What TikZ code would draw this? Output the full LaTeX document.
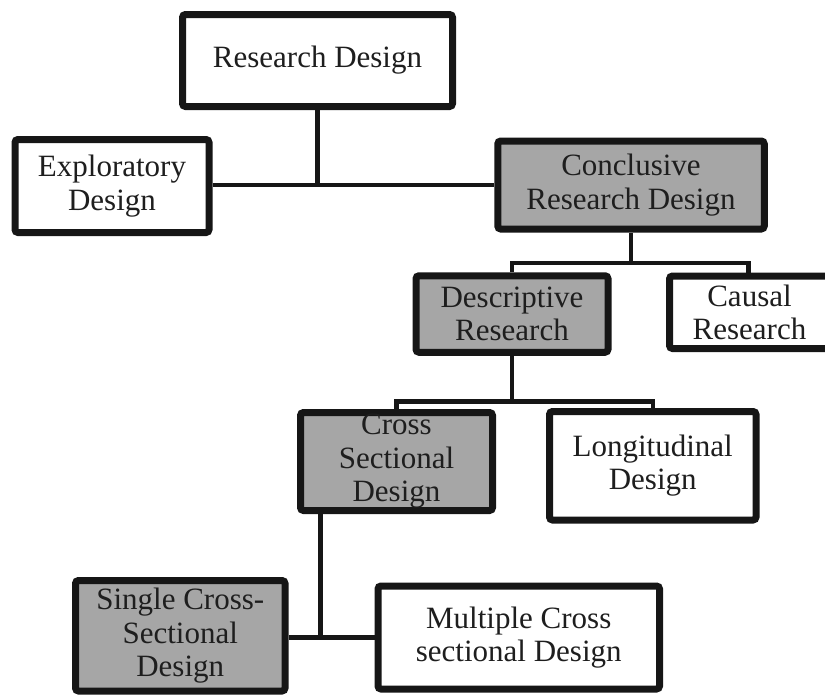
\documentclass[tikz,border=0pt]{standalone}
\usepackage{fontspec}
\setmainfont{Liberation Serif}
\usetikzlibrary{shadows}
\definecolor{boxgray}{RGB}{166,166,166}
\definecolor{edge}{RGB}{22,22,22}
\definecolor{ink}{RGB}{30,30,30}
\tikzset{
  box/.style={draw=edge, line width=7pt, rounded corners=3pt, fill=white,
    align=center, inner sep=0pt, text=ink,
    font=\fontsize{31}{33.5}\selectfont,
    drop shadow={opacity=0.2, shadow xshift=2pt, shadow yshift=-2pt}},
  graybox/.style={box, fill=boxgray},
  conn/.style={draw=edge, line width=4.5pt}
}
\begin{document}
\begin{tikzpicture}[x=1pt, y=-1pt]
\useasboundingbox (0,0) rectangle (825,696);
\clip (0,0) rectangle (825,696);
\node[box, minimum width=270pt, minimum height=92pt] (rd) at (317.5,60.5) {Research Design};
\node[box, minimum width=194pt, minimum height=93pt] (exp) at (112,186) {Exploratory\\Design};
\node[graybox, minimum width=266.5pt, minimum height=88pt] (con) at (631,185) {Conclusive\\Research Design};
\node[graybox, minimum width=192pt, minimum height=76.5pt] (des) at (512,314) {Descriptive\\Research};
\node[box, minimum width=170pt, minimum height=72.5pt] (cau) at (754.5,312.25) {\hspace*{-10pt}Causal\\\hspace*{-10pt}Research};
\node[graybox, minimum width=192pt, minimum height=98pt] (cro) at (396.5,461.5) {Cross\\Sectional\\Design};
\node[box, minimum width=206.5pt, minimum height=108.5pt] (lon) at (652.75,465.75) {Longitudinal\\Design};
\node[graybox, minimum width=209.5pt, minimum height=110.5pt] (sin) at (180.25,635.75) {Single Cross-\\Sectional\\Design};
\node[box, minimum width=281.5pt, minimum height=103pt] (mul) at (518.75,637.5) {Multiple Cross\\sectional Design};
\coordinate (j1) at (317.5,185);
\coordinate (j2) at (631,263);
\coordinate (j3) at (512,401.5);
\coordinate (j4) at (320.5,637.5);
\coordinate (jc) at (748.5,263);
\draw[conn] (rd.south) -- (j1);
\draw[conn] (exp.east |- j1) -- (con.west |- j1);
\draw[conn] (con.south) -- (con.south |- j2);
\draw[conn] (des.north) -- (des.north |- j2) -- (jc) -- (cau.north -| jc);
\draw[conn] (des.south) -- (des.south |- j3);
\draw[conn] (cro.north) -- (cro.north |- j3) -- (lon.north |- j3) -- (lon.north);
\draw[conn] (cro.south -| j4) -- (j4);
\draw[conn] (sin.east |- j4) -- (mul.west |- j4);
\end{tikzpicture}
\end{document}
